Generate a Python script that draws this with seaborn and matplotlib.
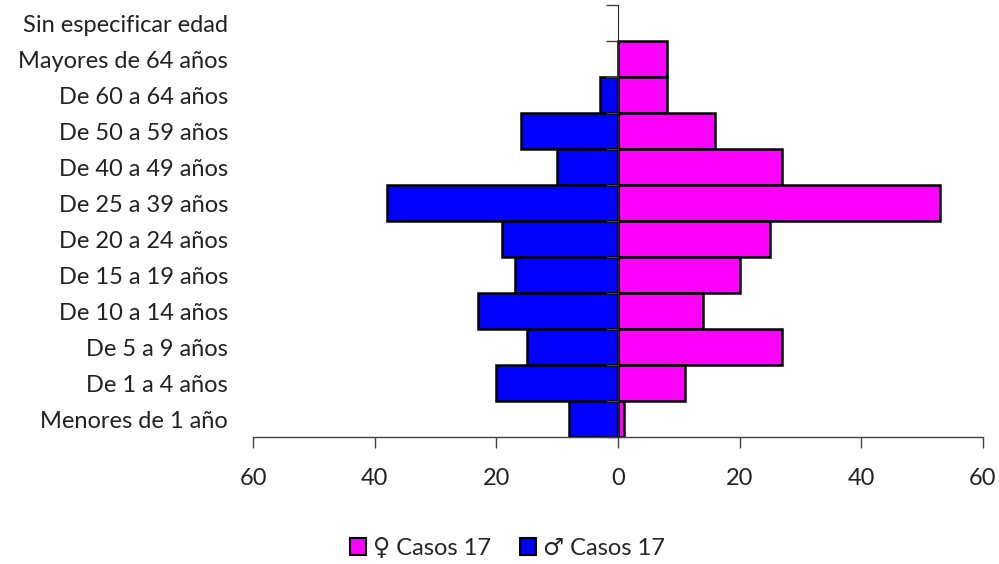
import numpy as np
import pandas as pd
import matplotlib
matplotlib.use("Agg")
import matplotlib.pyplot as plt
from matplotlib.patches import Patch
import seaborn as sns

# age groups, top to bottom as in the chart
grupos = ["Sin especificar edad", "Mayores de 64 años", "De 60 a 64 años",
          "De 50 a 59 años", "De 40 a 49 años", "De 25 a 39 años",
          "De 20 a 24 años", "De 15 a 19 años", "De 10 a 14 años",
          "De 5 a 9 años", "De 1 a 4 años", "Menores de 1 año"]
mujeres = [0, 8, 8, 16, 27, 53, 25, 20, 14, 27, 11, 1]
hombres = [0, 0, 3, 16, 10, 38, 19, 17, 23, 15, 20, 8]
xticks = [-60, -40, -20, 0, 20, 40, 60]
lbl_f = "\u2640 Casos 17"
lbl_m = "\u2642 Casos 17"

df = pd.DataFrame({
    "grupo": grupos * 2,
    "casos": mujeres + [-v for v in hombres],
    "sexo": [lbl_f] * len(grupos) + [lbl_m] * len(grupos),
})

sns.set_style("white")
plt.rcParams['font.family'] = ['Lato', 'DejaVu Sans']
fs = 17

fig = plt.figure(figsize=(9.99, 5.64), dpi=100)
ax = fig.add_axes([253 / 999, 1 - 437 / 564, 730 / 999, 432 / 564])

colors = {lbl_f: "#FF00FF", lbl_m: "#0000FF"}
sns.barplot(data=df, y="grupo", x="casos", hue="sexo", order=grupos,
            hue_order=[lbl_f, lbl_m], palette=colors, dodge=False, width=1.0,
            saturation=1, edgecolor="black", linewidth=1.8, legend=False, ax=ax)

# empty bars should not leave an outline on the centre axis
for p in ax.patches:
    if p.get_width() == 0:
        p.set_linewidth(0)

ax.set_xlim(-60, 60)
ax.set_ylim(len(grupos) - 0.5, -0.5)
ax.set_xticks(xticks)
ax.set_xticklabels([str(abs(v)) for v in xticks], fontsize=fs, color="#222222")
ax.set_yticks(range(len(grupos)))
ax.set_yticklabels(grupos, fontsize=fs, color="#222222")
ax.tick_params(axis="y", length=0, pad=18)
ax.tick_params(axis="x", direction="out", length=8, width=1, color="#444444",
               bottom=True, pad=14)
ax.set_xlabel("")
ax.set_ylabel("")
for s in ["top", "right", "left"]:
    ax.spines[s].set_visible(False)
ax.spines["bottom"].set_color("#444444")
ax.spines["bottom"].set_linewidth(1)

# central category axis at x = 0 with boundary ticks
sec = ax.secondary_yaxis(0.5)
sec.set_yticks(np.arange(-0.5, len(grupos), 1.0))
sec.set_yticklabels([])
sec.tick_params(direction="out", length=9, width=1, color="#444444",
                left=True, right=False)
sec.spines["left"].set_color("#444444")
sec.spines["left"].set_linewidth(1)
sec.set_zorder(5)

handles = [Patch(facecolor=colors[lbl_f], edgecolor="black", linewidth=1.5),
           Patch(facecolor=colors[lbl_m], edgecolor="black", linewidth=1.5)]
fig.legend(handles, [lbl_f, lbl_m], loc="center", bbox_to_anchor=(0.508, 1 - 548 / 564),
           ncol=2, frameon=False, fontsize=fs, handlelength=0.7, handleheight=0.7,
           handletextpad=0.3, columnspacing=1.2)

fig.savefig("out.png", dpi=100)
